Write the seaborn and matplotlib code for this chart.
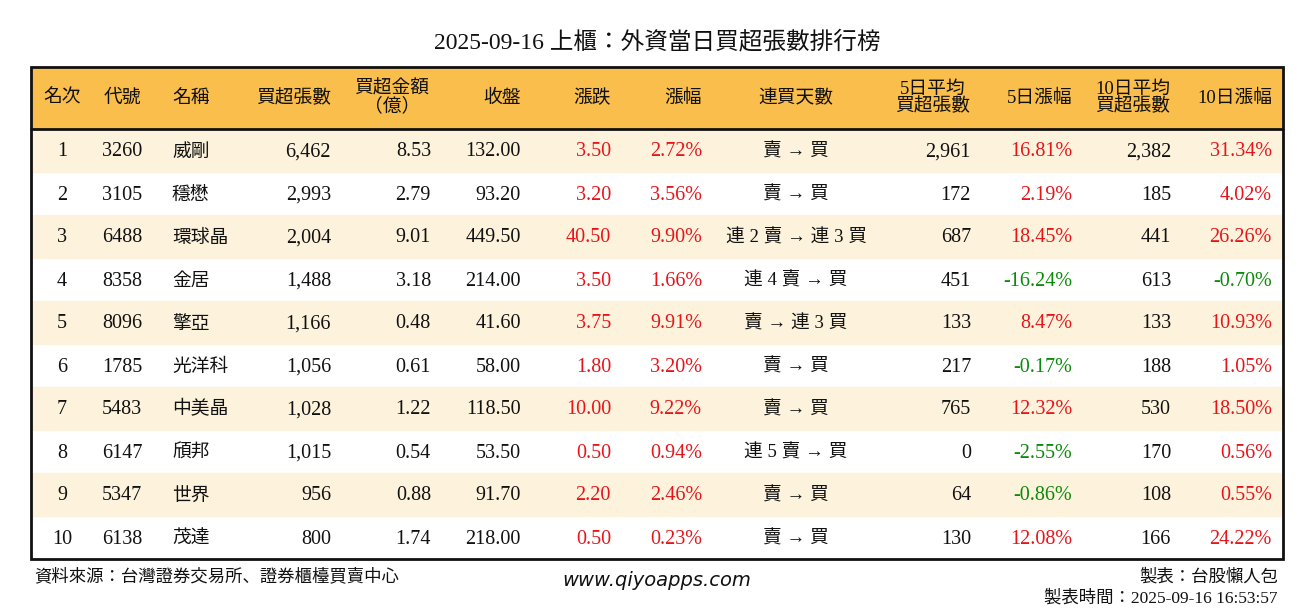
import matplotlib
matplotlib.use("Agg")
import matplotlib.pyplot as plt
from matplotlib import font_manager as fm
from matplotlib.patches import Rectangle
import seaborn as sns

cjk = sorted({f.name for f in fm.fontManager.ttflist if "CJK" in f.name})
cjk_name = next((n for n in cjk if "TC" in n), cjk[0] if cjk else "DejaVu Sans")
FONT = ["Liberation Serif", cjk_name]
sns.set_theme(style="white", rc={"font.family": FONT})

TITLE = "2025-09-16 上櫃：外資當日買超張數排行榜"
HEADERS = ["名次", "代號", "名稱", "買超張數", "買超金額\n（億）", "收盤", "漲跌", "漲幅",
           "連買天數", "5日平均\n買超張數", "5日漲幅", "10日平均\n買超張數", "10日漲幅"]

ranks = ["1", "2", "3", "4", "5", "6", "7", "8", "9", "10"]
codes = ["3260", "3105", "6488", "8358", "8096", "1785", "5483", "6147", "5347", "6138"]
names = ["威剛", "穩懋", "環球晶", "金居", "擎亞", "光洋科", "中美晶", "頎邦", "世界", "茂達"]
net_lots = ["6,462", "2,993", "2,004", "1,488", "1,166", "1,056", "1,028", "1,015", "956", "800"]
amount = ["8.53", "2.79", "9.01", "3.18", "0.48", "0.61", "1.22", "0.54", "0.88", "1.74"]
close = ["132.00", "93.20", "449.50", "214.00", "41.60", "58.00", "118.50", "53.50", "91.70", "218.00"]
change = ["3.50", "3.20", "40.50", "3.50", "3.75", "1.80", "10.00", "0.50", "2.20", "0.50"]
pct = ["2.72%", "3.56%", "9.90%", "1.66%", "9.91%", "3.20%", "9.22%", "0.94%", "2.46%", "0.23%"]
streak = ["賣 → 買", "賣 → 買", "連 2 賣 → 連 3 買", "連 4 賣 → 買", "賣 → 連 3 買",
          "賣 → 買", "賣 → 買", "連 5 賣 → 買", "賣 → 買", "賣 → 買"]
avg5 = ["2,961", "172", "687", "451", "133", "217", "765", "0", "64", "130"]
pct5 = ["16.81%", "2.19%", "18.45%", "-16.24%", "8.47%", "-0.17%", "12.32%", "-2.55%", "-0.86%", "12.08%"]
avg10 = ["2,382", "185", "441", "613", "133", "188", "530", "170", "108", "166"]
pct10 = ["31.34%", "4.02%", "26.26%", "-0.70%", "10.93%", "1.05%", "18.50%", "0.56%", "0.55%", "24.22%"]

columns = [ranks, codes, names, net_lots, amount, close, change, pct, streak, avg5, pct5, avg10, pct10]
# (x position in px, alignment)
col_pos = [(62, "center"), (122, "center"), (172, "left"), (331, "right"), (431, "right"),
           (521, "right"), (611, "right"), (702, "right"), (796, "center"), (971, "right"),
           (1072, "right"), (1171, "right"), (1272, "right")]
head_pos = [(62, "center"), (122, "center"), (172, "left"), (331, "right"), (392, "center"),
            (521, "right"), (611, "right"), (702, "right"), (796, "center"), (933, "center"),
            (1072, "right"), (1133, "center"), (1272, "right")]
colored = {6, 7, 10, 12}

RED = "#e8141a"
GREEN = "#0a8a0a"

fig = plt.figure(figsize=(13.14, 6.12), dpi=100)
ax = fig.add_axes([0, 0, 1, 1])
ax.set_xlim(0, 1314)
ax.set_ylim(612, 0)
ax.axis("off")

left, right, top, head_bot = 31, 1283, 67, 129
row_h = 43
ax.text(657, 48, TITLE, ha="center", va="baseline", fontsize=17, color="#111")
ax.add_patch(Rectangle((left, top), right - left, head_bot - top, color="#f9be4b", zorder=0))
for i in range(len(ranks)):
    y0 = head_bot + i * row_h
    if i % 2 == 0:
        ax.add_patch(Rectangle((left, y0), right - left, row_h, color="#fdf3dc", zorder=0))
bottom = head_bot + len(ranks) * row_h
ax.add_patch(Rectangle((left, top), right - left, bottom - top, fill=False, ec="#111", lw=2, zorder=3))
ax.plot([left, right], [head_bot, head_bot], color="#111", lw=2, zorder=3)

for (x, ha), h in zip(head_pos, HEADERS):
    ax.text(x, (top + head_bot) / 2, h, ha=ha, va="center", fontsize=13.5,
            linespacing=1.0, color="#111")

for c, (vals, (x, ha)) in enumerate(zip(columns, col_pos)):
    for i, v in enumerate(vals):
        color = "#111"
        if c in colored:
            color = GREEN if v.startswith("-") else RED
        ax.text(x, head_bot + (i + 0.5) * row_h + 6, v, ha=ha, va="baseline",
                fontsize=14.5 if c not in (2, 8) else 13.5, color=color)

ax.text(34, 577, "資料來源：台灣證券交易所、證券櫃檯買賣中心", ha="left", va="center", fontsize=12.5, color="#111")
ax.text(657, 580, "www.qiyoapps.com", ha="center", va="center", fontsize=14, style="italic",
        family="DejaVu Sans", color="#111")
ax.text(1278, 577, "製表：台股懶人包", ha="right", va="center", fontsize=12.5, color="#111")
ax.text(1278, 598, "製表時間：2025-09-16 16:53:57", ha="right", va="center", fontsize=12.5, color="#111")

fig.savefig("out.png", dpi=100, facecolor="white")
